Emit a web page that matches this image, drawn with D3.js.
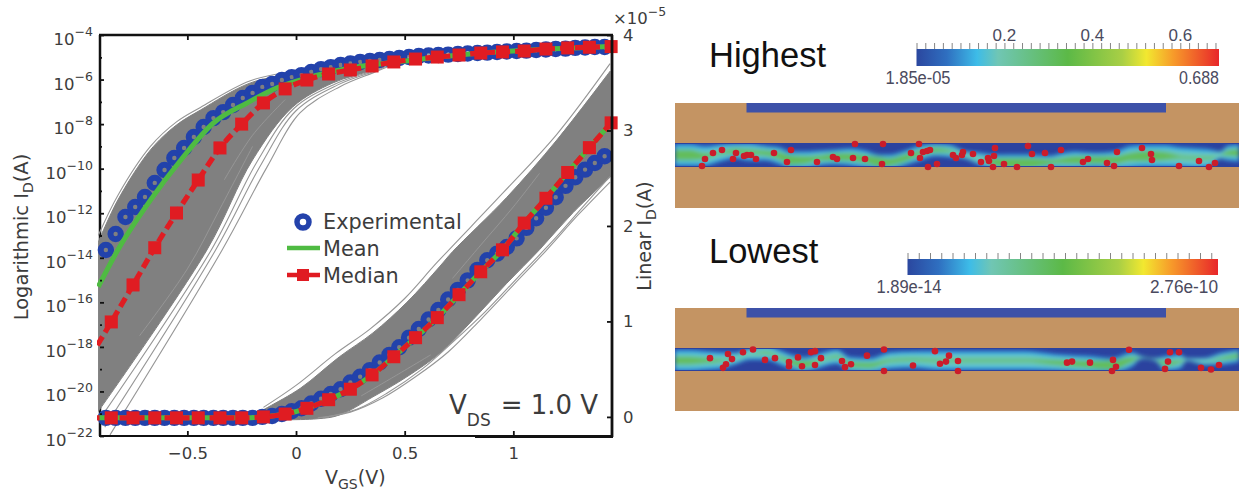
<!DOCTYPE html>
<html>
<head>
<meta charset="utf-8">
<script src="https://cdn.jsdelivr.net/npm/d3@7"></script>
<style>
  html, body { margin: 0; padding: 0; background: #fff; }
  svg { display: block; }
  text { font-family: "DejaVu Sans", sans-serif; fill: #3c3c3c; }
  text.arial { font-family: "Liberation Sans", Arial, sans-serif; }
</style>
</head>
<body>
<svg id="chart" width="1239" height="497"></svg>
<script>
// --- transfer curves ---
// experimental (blue rings)
var exp_v = [-0.875,-0.83,-0.785,-0.74,-0.695,-0.65,-0.605,-0.56,-0.515,-0.47,-0.425,-0.38,-0.335,-0.29,-0.245,-0.2,-0.155,-0.11,-0.065,-0.02,0.025,0.07,0.115,0.16,0.205,0.25,0.295,0.34,0.385,0.43,0.475,0.52,0.565,0.61,0.655,0.7,0.745,0.79,0.835,0.88,0.925,0.97,1.015,1.06,1.105,1.15,1.195,1.24,1.285,1.33,1.375,1.42]
var exp_log = [-13.65,-12.93,-12.17,-11.72,-11.27,-10.64,-10.06,-9.52,-9.07,-8.58,-8.13,-7.73,-7.46,-7.14,-6.83,-6.6,-6.33,-6.2,-6.02,-5.89,-5.8,-5.66,-5.53,-5.44,-5.35,-5.28,-5.21,-5.17,-5.12,-5.08,-5.03,-4.99,-4.94,-4.92,-4.9,-4.88,-4.85,-4.83,-4.81,-4.79,-4.76,-4.74,-4.72,-4.7,-4.67,-4.65,-4.63,-4.61,-4.58,-4.56,-4.54,-4.54]
var exp_lin = [-0.01,-0.01,-0.01,-0.01,-0.01,-0.01,-0.01,-0.01,-0.01,-0.01,-0.01,-0.01,-0.01,-0.01,-0.01,-0.01,0,0.01,0.03,0.06,0.09,0.14,0.19,0.24,0.29,0.36,0.42,0.49,0.57,0.65,0.73,0.83,0.92,1.02,1.12,1.23,1.33,1.43,1.54,1.64,1.71,1.78,1.87,1.98,2.08,2.19,2.3,2.42,2.51,2.59,2.66,2.73]

// median (red squares), first point sits left of the frame
var med_v = [-0.95,-0.85,-0.75,-0.65,-0.55,-0.45,-0.35,-0.25,-0.15,-0.05,0.05,0.15,0.25,0.35,0.45,0.55,0.65,0.75,0.85,0.95,1.05,1.15,1.25,1.35,1.45]
var med_log = [-18.5,-16.88,-15.22,-13.55,-11.99,-10.51,-9.07,-8,-7.05,-6.42,-6.02,-5.75,-5.57,-5.39,-5.21,-5.08,-4.99,-4.9,-4.81,-4.76,-4.72,-4.63,-4.58,-4.55,-4.52]
var med_lin = [-0.01,-0.01,-0.01,-0.01,-0.01,-0.01,-0.01,-0.01,0,0.03,0.09,0.18,0.29,0.44,0.63,0.83,1.04,1.28,1.52,1.75,2.03,2.29,2.56,2.82,3.08]

// mean (green)
var mean_v = [-0.91,-0.82,-0.67,-0.53,-0.38,-0.225,-0.09,0.05,0.25,0.5,0.75,1,1.45]
var mean_log = [-15.3,-13.65,-11.41,-9.61,-7.95,-7.05,-6.38,-5.93,-5.48,-5.17,-4.9,-4.72,-4.52]
var mean_lin_v = [-0.91,-0.25,-0.15,-0.05,0.05,0.15,0.25,0.35,0.45,0.55,0.65,0.75,0.85,0.95,1.05,1.15,1.25,1.35,1.45]
var mean_lin = [-0.01,-0.01,0,0.03,0.09,0.18,0.29,0.44,0.63,0.83,1.04,1.28,1.52,1.75,2.03,2.29,2.56,2.82,3.08]

// gray simulated bundle: outline of the dense part
var band_log_up_v = [-0.91,-0.82,-0.67,-0.55,-0.44,-0.21,0.02,0.2,0.48,1.45]
var band_log_up = [-13.3,-11.41,-9.16,-8.04,-7.37,-6.15,-5.66,-5.21,-4.81,-4.45]
var band_log_low_v = [-0.91,-0.41,-0.2,-0.015,0.17,0.354,0.51,0.71,1.45]
var band_log_low = [-20.9,-13.65,-9.61,-7.23,-6.15,-5.57,-4.99,-4.67,-4.5]
var band_lin_up_v = [-0.2,-0.13,0.02,0.2,0.354,0.51,0.663,0.72,0.97,1.2,1.445]
var band_lin_up = [0.01,0.1,0.3,0.63,0.88,1.2,1.58,1.73,2.3,2.9,3.62]
var band_lin_low_v = [-0.2,0.097,0.2,0.354,0.51,0.663,0.815,0.97,1.12,1.275,1.445]
var band_lin_low = [-0.03,-0.02,0.02,0.21,0.42,0.67,1.02,1.4,1.75,2.14,2.51]

// single loose gray curves outside the dense part, [V, value]
var loose_log = [
  [[-0.856,-21.95],[-0.34,-13.65],[-0.133,-9.92],[0.018,-7.5],[0.2,-6.33],[0.354,-5.7],[0.51,-5.12],[0.71,-4.75],[1.45,-4.52]],
  [[-0.88,-21.6],[-0.37,-13.65],[-0.16,-9.8],[0,-7.4],[0.19,-6.25],[0.354,-5.65],[0.51,-5.08],[0.71,-4.72],[1.45,-4.51]],
  [[-0.9,-21.2],[-0.39,-13.65],[-0.18,-9.7],[-0.01,-7.3],[0.18,-6.2],[0.354,-5.6],[0.51,-5.03],[0.71,-4.7],[1.45,-4.5]],
  [[-0.91,-13],[-0.82,-11.2],[-0.67,-9],[-0.55,-7.9],[-0.44,-7.25],[-0.21,-6.05],[0.02,-5.58]]
]
var loose_lin = [
  [[0.1,-0.01],[0.25,0.05],[0.4,0.2],[0.55,0.42],[0.7,0.68],[0.85,1.02],[1,1.38],[1.15,1.74],[1.3,2.12],[1.445,2.46]],
  [[0.12,-0.01],[0.28,0.08],[0.42,0.25],[0.58,0.5],[0.72,0.78],[0.87,1.1],[1.02,1.46],[1.18,1.84],[1.32,2.2],[1.445,2.52]],
  [[-0.15,0.1],[0,0.33],[0.18,0.66],[0.34,0.92],[0.5,1.24],[0.65,1.62],[0.95,2.34],[1.2,2.96],[1.445,3.7]]
]
// lighter streaks inside the bundle
var streak_log = [
  [[-0.72,-17.5],[-0.5,-14.5],[-0.35,-11.8],[-0.2,-9]],
  [[-0.33,-10.5],[-0.2,-8.5],[-0.05,-6.9]]
]
var streak_lin = [
  [[0.72,1.45],[0.85,1.8],[1,2.2],[1.12,2.55]],
  [[0.3,0.22],[0.45,0.42],[0.62,0.65]]
]

// axis ticks
var x_ticks = [-0.5, 0, 0.5, 1]
var log_labels = [-4,-6,-8,-10,-12,-14,-16,-18,-20,-22]
var log_minor = [-5,-7,-9,-11,-13,-15,-17,-19,-21]
var lin_ticks = [0, 1, 2, 3, 4]

// --- device cross sections, along = 0..564, across = 0..24 ---
var hi_along = [0,15,30,45,60,75,90,105,115,130,145,160,175,190,205,215,230,245,260,275,290,305,320,335,355,375,385,400,420,440,455,470,490,505,520,535,545,553,564]
var hi_center = [12,12,13,10,8,9,10,13,17,17,15,14,14,16,19,19,15,10,7,8,12,16,19,20,20,19,18,17,17,17,14,13,13,14,15,15,12,10,10]
var hi_half = [9,9,8,7,6,7,6,7,7,7,6,6,7,7,6,6,6,6,5,5,3,5,6,7,7,5,6,7,6,7,9,9,9,8,8,7,3,6,7]
var hi_core = [4,4,2,1,2,2,2,3,4,3,2,3,3,3,4,3,3,2,2,1,0,0,3,4,4,2,2,3,3,3,3,4,3,1,1,1,0,2,3]
var hi_dot_x = [27,38,47,30,61,58,69,72,76,81,99,116,112,142,158,162,178,190,207,180,208,236,245,248,252,255,244,262,253,278,281,287,288,298,306,313,314,319,320,318,329,342,353,357,370,386,376,408,413,432,439,442,467,476,477,504,524,540,534]
var hi_dot_y = [23,10,7,16,10,16,13,12,12,16,10,7,19,19,14,16,15,16,21,1,1,10,15,9,8,7,1,21,24,12,15,12,9,11,19,15,18,13,5,24,21,24,3,11,10,7,24,19,16,20,23,9,5,11,17,23,18,20,24]

var lo_along = [0,15,30,45,60,75,92,105,115,130,142,162,175,195,215,238,262,280,300,330,350,380,413,437,457,467,480,490,505,512,530,547,564]
var lo_center = [13,13,13,13,11,6,5,10,14,17,14,9,17,18,13,12,13,13,13,13,13,15,17,18,12,10,12,16,14,12,14,11,8]
var lo_half = [9,9,8,7,5,5,6,6,6,6,6,6,6,6,7,7,8,8,8,8,8,7,7,6,6,1,1,6,6,1,3,5,5]
var lo_core = [3,3,2,1,0,0,1,1,2,3,1,1,2,2,1,1,1,1,1,1,1,2,3,4,2,0,0,2,1,0,0,1,2]
var lo_dot_x = [35,53,57,68,78,51,48,90,100,114,114,123,127,136,140,140,146,167,170,176,192,209,209,238,260,265,271,274,283,283,392,397,415,438,441,437,454,493,495,504,490,526,536,544]
var lo_dot_y = [10.6,6.2,11.6,4.4,1.5,17,20.7,12.4,10.6,14.6,19,9.8,19,4.4,3.3,17.8,10.6,13.5,20,17,8,1.5,24,18.2,3.3,16.4,14.2,8,13.5,24,15.3,14.2,15.3,12.4,19.6,24,1.8,14.2,4.4,4.4,21.8,20.7,22.5,17.8]

// colour bars
var bar_offsets = [0, 0.1, 0.2, 0.27, 0.5, 0.68, 0.76, 0.85, 1]
var bar_colors = ['#2b479f', '#2f6fc0', '#3dbce8', '#70c6b4', '#5cb947', '#a9cf45', '#f2e830', '#f79a2a', '#e8262a']
var hi_bar_domain = [0, 0.688]
var hi_bar_labels = [0.2, 0.4, 0.6]
var lo_bar_domain = [0, 2.76e-10]

var green = '#4fbb42', red = '#e01b22', blue = '#2442ab', gray = '#808080'

var svg = d3.select('#chart')
var defs = svg.append('defs')

// --- scales ---
var p_left = 100, p_right = 612, p_top = 35, p_bottom = 436
var x = d3.scaleLinear().domain([-0.902, 1.454]).range([p_left, p_right])
var y_log = d3.scaleLinear().domain([-4, -22]).range([p_top, p_bottom])
var y_lin = d3.scaleLinear().domain([4, -0.2]).range([p_top, p_bottom])

defs.append('clipPath').attr('id', 'plot_clip').append('rect')
  .attr('x', p_left - 2).attr('y', p_top).attr('width', p_right - p_left + 3).attr('height', p_bottom - p_top)
defs.append('clipPath').attr('id', 'mark_clip').append('rect')
  .attr('x', p_left - 3).attr('y', p_top).attr('width', p_right - p_left + 20).attr('height', p_bottom - p_top)
var soft = defs.append('filter').attr('id', 'soft').attr('x', '-5%').attr('y', '-5%').attr('width', '110%').attr('height', '110%')
soft.append('feGaussianBlur').attr('stdDeviation', 0.7)
var softer = defs.append('filter').attr('id', 'softer').attr('x', '-5%').attr('y', '-5%').attr('width', '110%').attr('height', '110%')
softer.append('feGaussianBlur').attr('stdDeviation', 0.35)
var heat_blur = defs.append('filter').attr('id', 'heat_blur').attr('x', '-5%').attr('y', '-50%').attr('width', '110%').attr('height', '200%')
heat_blur.append('feGaussianBlur').attr('stdDeviation', 2.2)

function zip(a, b) {
  return a.map(function (d, i) { return [d, b[i]] })
}

function draw_bundle(group, scale, up, low, loose, streaks) {
  var line = d3.line().x(function (d) { return x(d[0]) }).y(function (d) { return scale(d[1]) }).curve(d3.curveCatmullRom)
  // each edge smoothed on its own so the ends stay square
  var outline = line(up) + 'L' + line(low.slice().reverse()).slice(1) + 'Z'
  group.append('path').attr('d', outline).attr('fill', gray).attr('stroke', gray).attr('stroke-width', 1)
  loose.forEach(function (c) {
    group.append('path').attr('d', line(c)).attr('fill', 'none').attr('stroke', '#969696').attr('stroke-width', 1.1)
  })
  streaks.forEach(function (c) {
    group.append('path').attr('d', line(c)).attr('fill', 'none').attr('stroke', '#9c9c9c').attr('stroke-width', 0.8)
  })
}

// --- frame below the curves ---
var frame = svg.append('g')
frame.append('line').attr('x1', p_left).attr('x2', p_left).attr('y1', p_top).attr('y2', p_bottom).attr('stroke', '#111').attr('stroke-width', 2.5)

// --- gray curves ---
var bundles = svg.append('g').attr('clip-path', 'url(#plot_clip)').append('g').attr('filter', 'url(#softer)')
draw_bundle(bundles, y_log, zip(band_log_up_v, band_log_up), zip(band_log_low_v, band_log_low), loose_log, streak_log)
draw_bundle(bundles, y_lin, zip(band_lin_up_v, band_lin_up), zip(band_lin_low_v, band_lin_low), loose_lin, streak_lin)

// --- experimental / mean / median ---
var marks = svg.append('g').attr('clip-path', 'url(#mark_clip)').append('g').attr('filter', 'url(#soft)')

function draw_exp(scale, values) {
  marks.append('g').selectAll('circle').data(zip(exp_v, values)).enter().append('circle')
    .attr('cx', function (d) { return x(d[0]) })
    .attr('cy', function (d) { return scale(d[1]) })
    .attr('r', 5.2)
    .attr('fill', 'none')
    .attr('stroke', blue)
    .attr('stroke-width', 6)
}
draw_exp(y_log, exp_log)
draw_exp(y_lin, exp_lin)

function draw_mean(scale, vs, values) {
  var line = d3.line().x(function (d) { return x(d[0]) }).y(function (d) { return scale(d[1]) }).curve(d3.curveMonotoneX)
  marks.append('path').attr('d', line(zip(vs, values))).attr('fill', 'none').attr('stroke', green).attr('stroke-width', 5)
}
draw_mean(y_log, mean_v, mean_log)
draw_mean(y_lin, mean_lin_v, mean_lin)

function draw_median(scale, values) {
  var pts = zip(med_v, values)
  var line = d3.line().x(function (d) { return x(d[0]) }).y(function (d) { return scale(d[1]) }).curve(d3.curveMonotoneX)
  marks.append('path').attr('d', line(pts)).attr('fill', 'none').attr('stroke', red).attr('stroke-width', 5.2).attr('stroke-dasharray', '10 5')
  marks.append('g').selectAll('rect').data(pts).enter().append('rect')
    .attr('x', function (d) { return x(d[0]) - 6.5 })
    .attr('y', function (d) { return scale(d[1]) - 6.5 })
    .attr('width', 13).attr('height', 13)
    .attr('fill', red)
}
draw_median(y_log, med_log)
draw_median(y_lin, med_lin)

// --- axes ---
var ax_bottom = svg.append('g').attr('transform', 'translate(0,' + p_bottom + ')')
  .call(d3.axisBottom(x).tickValues(x_ticks).tickSize(-5).tickPadding(11).tickFormat(function (d) { return d === 0 ? '0' : d3.format('')(d).replace('-', '\u2212') }))
var ax_top = svg.append('g').attr('transform', 'translate(0,' + p_top + ')')
  .call(d3.axisTop(x).tickValues(x_ticks).tickSize(-5).tickFormat(''))
var ax_left = svg.append('g').attr('transform', 'translate(' + p_left + ',0)')
  .call(d3.axisLeft(y_log).tickValues(log_labels).tickSize(-4).tickFormat(''))
var ax_left_minor = svg.append('g').attr('transform', 'translate(' + p_left + ',0)')
  .call(d3.axisLeft(y_log).tickValues(log_minor).tickSize(-2).tickFormat(''))
var ax_right = svg.append('g').attr('transform', 'translate(' + p_right + ',0)')
  .call(d3.axisRight(y_lin).tickValues(lin_ticks).tickSize(-5).tickPadding(11).tickFormat(d3.format('d')))

;[ax_bottom, ax_top, ax_left, ax_left_minor, ax_right].forEach(function (a) {
  a.select('.domain').remove()
  a.selectAll('.tick line').attr('stroke', '#111').attr('stroke-width', 1.8)
  a.selectAll('.tick text').attr('font-size', 16.5).attr('font-family', '"DejaVu Sans", sans-serif').style('fill', '#3c3c3c')
})

// 10^n labels on the log axis
log_labels.forEach(function (n) {
  var t = svg.append('text').attr('x', 93).attr('y', y_log(n) + 10).attr('text-anchor', 'end').attr('font-size', 16.5)
  t.append('tspan').text('10')
  t.append('tspan').attr('dy', -9).attr('font-size', 12.5).text('\u2212' + Math.abs(n))
})

// spines on top of the curves
frame = svg.append('g').attr('stroke', '#111').attr('fill', 'none')
frame.append('line').attr('x1', p_left - 1).attr('x2', p_right + 1).attr('y1', p_top).attr('y2', p_top).attr('stroke-width', 2.4)
frame.append('line').attr('x1', p_left - 1).attr('x2', 475).attr('y1', p_bottom).attr('y2', p_bottom).attr('stroke-width', 1.8)
frame.append('line').attr('x1', 475).attr('x2', p_right + 1).attr('y1', p_bottom + 0.5).attr('y2', p_bottom + 0.5).attr('stroke-width', 2.8)
frame.append('line').attr('x1', p_right).attr('x2', p_right).attr('y1', p_top).attr('y2', p_bottom + 1).attr('stroke-width', 2.8)

// --- axis titles ---
var t_left = svg.append('text').attr('transform', 'translate(28,237) rotate(-90)').attr('text-anchor', 'middle').attr('font-size', 19.5)
t_left.append('tspan').text('Logarithmic I')
t_left.append('tspan').attr('dy', 5).attr('font-size', 14).text('D')
t_left.append('tspan').attr('dy', -5).text('(A)')

var t_right = svg.append('text').attr('transform', 'translate(651,236) rotate(-90)').attr('text-anchor', 'middle').attr('font-size', 19)
t_right.append('tspan').text('Linear I')
t_right.append('tspan').attr('dy', 5).attr('font-size', 14).text('D')
t_right.append('tspan').attr('dy', -5).text('(A)')

var t_bottom = svg.append('text').attr('x', 325).attr('y', 484).attr('font-size', 19)
t_bottom.append('tspan').text('V')
t_bottom.append('tspan').attr('dy', 5).attr('font-size', 14).text('GS')
t_bottom.append('tspan').attr('dy', -5).text('(V)')

var t_mult = svg.append('text').attr('x', 613).attr('y', 24).attr('font-size', 16.5)
t_mult.append('tspan').text('\u00d710')
t_mult.append('tspan').attr('dy', -8).attr('font-size', 12.5).text('\u22125')

var t_vds = svg.append('text').attr('x', 449).attr('y', 414).attr('font-size', 26)
t_vds.append('tspan').text('V')
t_vds.append('tspan').attr('dy', 12).attr('font-size', 17).text('DS')
t_vds.append('tspan').attr('dy', -12).attr('dx', 10).text('= 1.0 V')

// --- legend ---
var legend = svg.append('g')
legend.append('circle').attr('cx', 303).attr('cy', 222).attr('r', 6).attr('fill', 'none').attr('stroke', blue).attr('stroke-width', 5.5)
legend.append('line').attr('x1', 287).attr('x2', 320).attr('y1', 248).attr('y2', 248).attr('stroke', green).attr('stroke-width', 4.5)
legend.append('line').attr('x1', 287).attr('x2', 320).attr('y1', 275).attr('y2', 275).attr('stroke', red).attr('stroke-width', 4.5)
legend.append('rect').attr('x', 297).attr('y', 269).attr('width', 12).attr('height', 12).attr('fill', red)
;[['Experimental', 222], ['Mean', 249], ['Median', 276]].forEach(function (d) {
  legend.append('text').attr('x', 323).attr('y', d[1] + 7).attr('font-size', 20.8).text(d[0])
})

// --- right hand panels ---
function draw_panel(cfg) {
  var g = svg.append('g')
  var along = d3.scaleLinear().domain([0, 564]).range([675, 1239])
  var across = d3.scaleLinear().domain([0, 24]).range([cfg.ch_top, cfg.ch_bottom])
  var unit = (cfg.ch_bottom - cfg.ch_top) / 24

  g.append('rect').attr('x', 675).attr('y', cfg.top).attr('width', 564).attr('height', cfg.bottom - cfg.top).attr('fill', '#c49463')
  g.append('rect').attr('x', along(71.5)).attr('y', cfg.top).attr('width', along(491) - along(71.5)).attr('height', 9.5).attr('fill', '#3d51a8')
  g.append('rect').attr('x', 675).attr('y', cfg.ch_top).attr('width', 564).attr('height', cfg.ch_bottom - cfg.ch_top).attr('fill', '#2b429f')

  defs.append('clipPath').attr('id', cfg.id).append('rect')
    .attr('x', 675).attr('y', cfg.ch_top + 1).attr('width', 564).attr('height', cfg.ch_bottom - cfg.ch_top - 2)
  var heat = g.append('g').attr('clip-path', 'url(#' + cfg.id + ')').append('g').attr('filter', 'url(#heat_blur)')

  var rows = cfg.along.map(function (d, i) { return { a: d, c: cfg.center[i], h: cfg.half[i], k: cfg.core[i] } })
  function ribbon(width, color, alpha) {
    var area = d3.area()
      .x(function (d) { return along(d.a) })
      .y0(function (d) { return across(d.c) - width(d) * unit })
      .y1(function (d) { return across(d.c) + width(d) * unit })
      .curve(d3.curveMonotoneX)
    heat.append('path').attr('d', area(rows)).attr('fill', color).attr('opacity', alpha)
  }
  ribbon(function (d) { return d.h * 1.3 }, '#2f84d2', 1)
  ribbon(function (d) { return d.h * 1.0 }, '#3fbde4', 1)
  ribbon(function (d) { return d.h * 0.72 }, '#6cc8bc', 1)
  ribbon(function (d) { return d.k * 1.3 }, '#62bb4a', 0.85)

  var dots = g.append('g').attr('filter', 'url(#softer)')
  dots.selectAll('circle').data(zip(cfg.dot_x, cfg.dot_y)).enter().append('circle')
    .attr('cx', function (d) { return along(d[0]) })
    .attr('cy', function (d) { return across(d[1]) })
    .attr('r', 3.3)
    .attr('fill', '#cb1d2b')

  // colour bar
  var bar = d3.scaleLinear().domain(cfg.bar_domain).range(cfg.bar_range)
  var grad = defs.append('linearGradient').attr('id', cfg.id + '_grad')
  bar_offsets.forEach(function (o, i) {
    grad.append('stop').attr('offset', o).attr('stop-color', bar_colors[i])
  })
  var ax = g.append('g').attr('transform', 'translate(0,' + cfg.bar_top + ')')
    .call(d3.axisTop(bar).tickValues(cfg.bar_ticks).tickSize(6).tickFormat(''))
  ax.select('.domain').remove()
  ax.selectAll('.tick line').attr('stroke', '#777').attr('stroke-width', 0.9)
  g.append('rect').attr('x', cfg.bar_range[0]).attr('y', cfg.bar_top)
    .attr('width', cfg.bar_range[1] - cfg.bar_range[0]).attr('height', cfg.bar_h).attr('fill', 'url(#' + cfg.id + '_grad)')

  var lab_y = cfg.bar_top + cfg.bar_h + 18
  g.append('text').attr('class', 'arial').attr('x', cfg.bar_range[0] - 31).attr('y', lab_y).attr('font-size', 18).attr('textLength', 65).attr('lengthAdjust', 'spacingAndGlyphs').style('fill', '#4a4a5e').text(cfg.low_label)
  g.append('text').attr('class', 'arial').attr('x', cfg.bar_range[1]).attr('y', lab_y).attr('text-anchor', 'end').attr('font-size', 18).attr('textLength', cfg.high_w).attr('lengthAdjust', 'spacingAndGlyphs').style('fill', '#4a4a5e').text(cfg.high_label)

  g.append('text').attr('class', 'arial').attr('x', 709).attr('y', cfg.title_y).attr('font-size', 34.5).style('fill', '#111').text(cfg.title)
  return { g: g, bar: bar }
}

var hi = draw_panel({
  id: 'hi_clip', title: 'Highest', title_y: 67, top: 103, bottom: 208, ch_top: 143, ch_bottom: 167,
  along: hi_along, center: hi_center, half: hi_half, core: hi_core, dot_x: hi_dot_x, dot_y: hi_dot_y,
  bar_domain: hi_bar_domain, bar_range: [916.5, 1219], bar_top: 49, bar_h: 17,
  bar_ticks: d3.scaleLinear().domain(hi_bar_domain).ticks(34),
  low_label: '1.85e-05', high_label: '0.688', high_w: 40
})
hi_bar_labels.forEach(function (d) {
  hi.g.append('text').attr('class', 'arial').attr('x', hi.bar(d)).attr('y', 41).attr('text-anchor', 'middle').attr('font-size', 17).style('fill', '#4a4a5e').text(d)
})

draw_panel({
  id: 'lo_clip', title: 'Lowest', title_y: 263, top: 308, bottom: 411, ch_top: 348, ch_bottom: 371,
  along: lo_along, center: lo_center, half: lo_half, core: lo_core, dot_x: lo_dot_x, dot_y: lo_dot_y,
  bar_domain: lo_bar_domain, bar_range: [907.5, 1218], bar_top: 259, bar_h: 16,
  bar_ticks: d3.scaleLinear().domain(lo_bar_domain).ticks(27),
  low_label: '1.89e-14', high_label: '2.76e-10', high_w: 68
})
</script>
</body>
</html>
